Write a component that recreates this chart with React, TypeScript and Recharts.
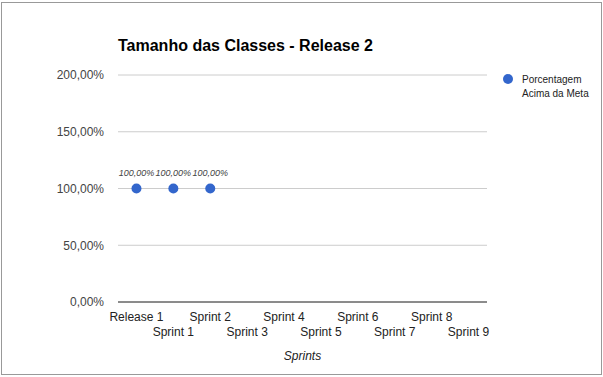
import { LineChart, Line, XAxis, YAxis, CartesianGrid, LabelList } from "recharts";

// categories and values
const categories = ["Release 1", "Sprint 1", "Sprint 2", "Sprint 3", "Sprint 4", "Sprint 5", "Sprint 6", "Sprint 7", "Sprint 8", "Sprint 9"];
const aboveGoal: (number | null)[] = [1, 1, 1, null, null, null, null, null, null, null];
const yTicks = [0, 0.5, 1, 1.5, 2];

const data = categories.map((name, i) => ({ name, value: aboveGoal[i] }));

const FONT = "'Liberation Sans', Arial, sans-serif";
const BLUE = "#3366cc";

const pct = (v: number) => (v * 100).toFixed(2).replace(".", ",") + "%";

function StaggeredTick(props: any) {
  const { x, y, payload, index } = props;
  const dy = index % 2 === 0 ? 0 : 15;
  return (
    <text x={x} y={y + dy} dy={11} textAnchor="middle" fontSize={12} fill="#222" fontFamily={FONT}>
      {payload.value}
    </text>
  );
}

function PointLabel(props: any) {
  const { x, y, value } = props;
  if (value == null) return null;
  return (
    <text x={x} y={y - 13} textAnchor="middle" fontSize={9} fontStyle="italic" fill="#444" fontFamily={FONT}>
      {pct(value)}
    </text>
  );
}

export default function App() {
  return (
    <div style={{ position: "absolute", left: 0, top: 0, width: 603, height: 377, background: "#fff", fontFamily: FONT }}>
      <div style={{ position: "absolute", left: 1, top: 2, width: 599, height: 371, border: "1px solid #999" }} />
      <div style={{ position: "absolute", left: 118, top: 37, fontSize: 16, fontWeight: "bold", color: "#000", whiteSpace: "nowrap" }}>
        Tamanho das Classes - Release 2
      </div>
      <LineChart width={603} height={377} data={data} margin={{ top: 75, right: 116, bottom: 35, left: 0 }}>
        <CartesianGrid horizontal vertical={false} stroke="#ccc" />
        <XAxis
          dataKey="name"
          height={40}
          interval={0}
          padding={{ left: 18.45, right: 18.45 }}
          tick={<StaggeredTick />}
          tickLine={false}
          axisLine={{ stroke: "#333" }}
          label={{ value: "Sprints", position: "insideBottom", offset: -18, fontSize: 12, fontStyle: "italic", fill: "#222", fontFamily: FONT }}
        />
        <YAxis
          width={118}
          domain={[0, 2]}
          ticks={yTicks}
          tickFormatter={pct}
          tickLine={false}
          axisLine={false}
          tickMargin={8}
          tick={{ fontSize: 12, fill: "#444", fontFamily: FONT }}
        />
        <Line
          dataKey="value"
          stroke="none"
          isAnimationActive={false}
          dot={{ r: 5, fill: BLUE, stroke: BLUE, strokeWidth: 0 }}
          activeDot={false}
        >
          <LabelList dataKey="value" content={<PointLabel />} />
        </Line>
      </LineChart>
      <div style={{ position: "absolute", left: 503, top: 74, width: 10, height: 10, borderRadius: 5, background: BLUE }} />
      <div style={{ position: "absolute", left: 522, top: 73, fontSize: 10, lineHeight: "14px", color: "#222" }}>
        Porcentagem
        <br />
        Acima da Meta
      </div>
    </div>
  );
}
